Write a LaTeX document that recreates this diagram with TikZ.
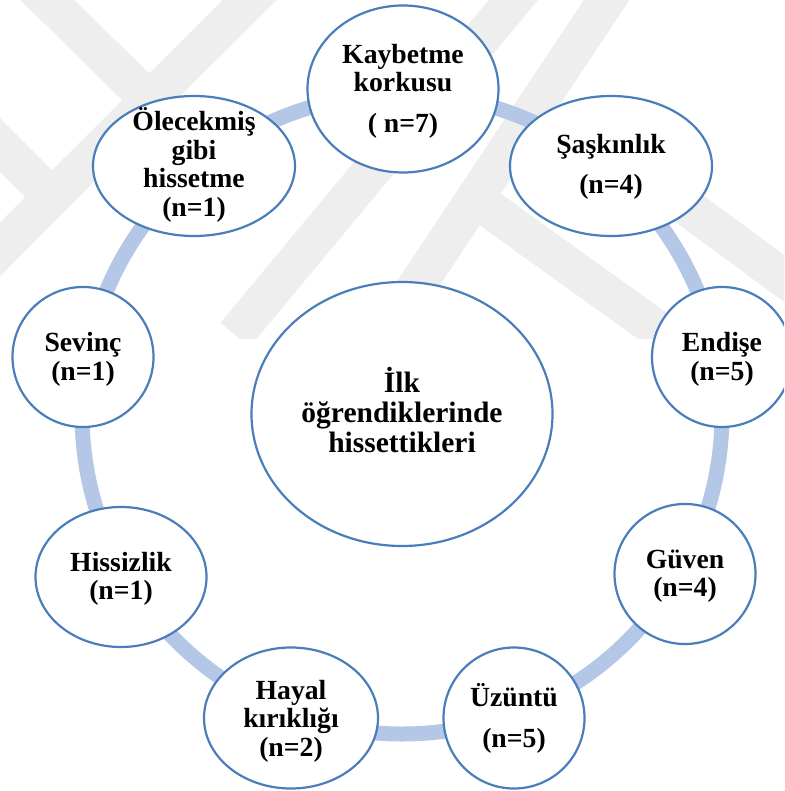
\documentclass[tikz,border=0pt]{standalone}
\usepackage{fontspec}
\setmainfont{Liberation Serif}
\usetikzlibrary{shapes.geometric}

\definecolor{rim}{RGB}{74,126,187}
\definecolor{ringblue}{RGB}{180,199,231}
\definecolor{mark}{RGB}{238,238,238}

\begin{document}
\begin{tikzpicture}[x=1pt,y=-1pt,
  bubble/.style={ellipse, draw=rim, line width=2.2pt, fill=white, inner sep=0pt},
  lbl/.style={align=center, inner sep=0pt,
              font=\fontsize{27.7}{28.5}\selectfont\bfseries},
  hub/.style={align=center, inner sep=0pt,
              font=\fontsize{29.5}{30}\selectfont\bfseries},
  ring/.style={draw=ringblue, line width=15pt},
  band/.style={draw=mark, line width=38pt, line cap=butt, line join=miter}]

\useasboundingbox (0,0) rectangle (784,791);
\clip (0,0) rectangle (784,791);

% faint background chevrons
\begin{scope}
  \clip (0,0) rectangle (784,338);
  \draw[band] (22,-25) -- (200,150);
  \draw[band] (-40,105) -- (52,197) -- (290,-40);
  \draw[band] (52,197) -- (-40,290);
  \draw[band] (235,335) -- (530,-20);
  \draw[band] (384,335) -- (620,-20);
  \draw[band] (470,195) -- (700,360);
  \draw[band] (650,180) -- (800,290);
\end{scope}

% hub and cycle ring
\node[bubble, minimum width=301pt, minimum height=264pt] (ilk) at (402,414) {};
\draw[ring] (ilk.center) circle (320pt);

% surrounding bubbles
\node[bubble, minimum width=191pt, minimum height=167pt] (kay) at (403,89)  {};
\node[bubble, minimum width=202pt, minimum height=140pt] (ole) at (194,166) {};
\node[bubble, minimum width=202pt, minimum height=140pt] (sas) at (611,166) {};
\node[bubble, minimum width=140pt, minimum height=140pt] (end) at (722,357) {};
\node[bubble, minimum width=141pt, minimum height=140pt] (guv) at (685,574) {};
\node[bubble, minimum width=141pt, minimum height=141pt] (uzu) at (514,718) {};
\node[bubble, minimum width=174pt, minimum height=141pt] (hay) at (291,718) {};
\node[bubble, minimum width=171pt, minimum height=140pt] (his) at (121,577) {};
\node[bubble, minimum width=141pt, minimum height=140pt] (sev) at (83,357)  {};

% texts
\node[hub] (ilk-t) at (402,410) {İlk\\öğrendiklerinde\\hissettikleri};
\node[lbl] (kay-t) at (403,91.5) {Kaybetme\\korkusu\\[12.5pt]( n=7)};
\node[lbl] (ole-t) at (194,165) {Ölecekmiş\\gibi\\hissetme\\(n=1)};
\node[lbl] (sas-t) at (611,166.5) {Şaşkınlık\\[11.5pt](n=4)};
\node[lbl] (end-t) at (722,359.5) {Endişe\\(n=5)};
\node[lbl] (guv-t) at (685,576) {Güven\\(n=4)};
\node[lbl] (uzu-t) at (514,718.5) {Üzüntü\\[12.5pt](n=5)};
\node[lbl] (hay-t) at (291,721) {Hayal\\kırıklığı\\(n=2)};
\node[lbl] (his-t) at (121,579) {Hissizlik\\(n=1)};
\node[lbl] (sev-t) at (83,359.5) {Sevinç\\(n=1)};
\end{tikzpicture}
\end{document}
